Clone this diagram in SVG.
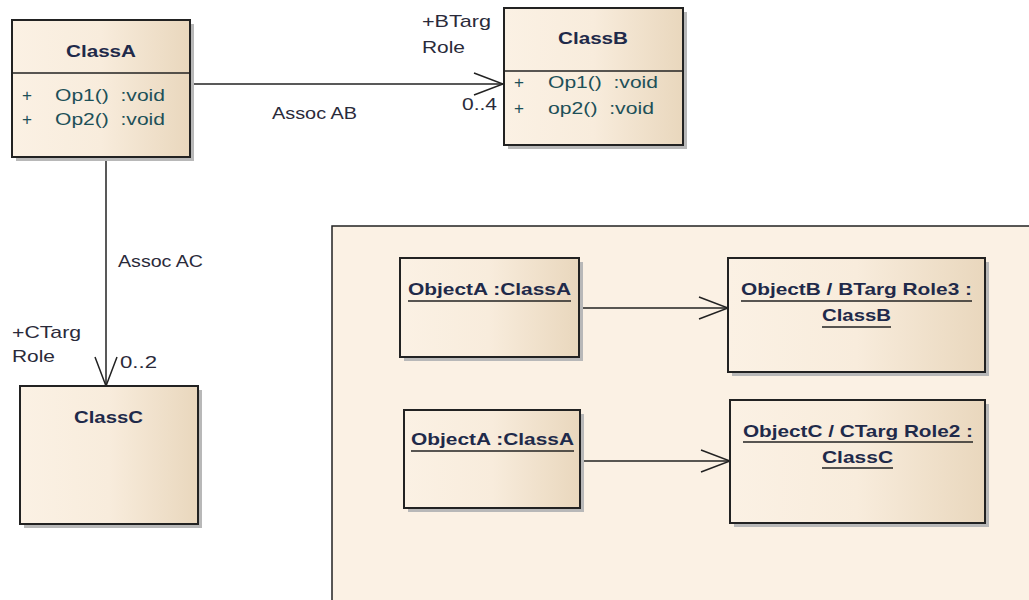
<svg xmlns="http://www.w3.org/2000/svg" width="1029" height="600" viewBox="0 0 1029 600">
<defs>
<linearGradient id="g" x1="0" y1="0" x2="1" y2="0">
<stop offset="0" stop-color="#fbf1e4"/>
<stop offset="0.5" stop-color="#f8ecdc"/>
<stop offset="1" stop-color="#e9d7bd"/>
</linearGradient>
<marker id="open" markerWidth="32" markerHeight="26" refX="30" refY="13" orient="auto" markerUnits="userSpaceOnUse">
<path d="M1,2 L30,13 L1,24" fill="none" stroke="#222" stroke-width="1.5"/>
</marker>
</defs>
<style>
text{white-space:pre}
.box{fill:url(#g);stroke:#222;stroke-width:2}
.sh{fill:#b8b8b8}
.cn{font-family:"Liberation Sans",Arial,sans-serif;font-size:17px;font-weight:bold;fill:#1f2a4a}
.op{font-family:"Liberation Sans",Arial,sans-serif;font-size:17px;fill:#1d5058}
.lb{font-family:"Liberation Sans",Arial,sans-serif;font-size:17px;fill:#2a2a3a}
.ob{font-family:"Liberation Sans",Arial,sans-serif;font-size:17px;font-weight:bold;fill:#1f2a4a}
.ul{stroke:#222;stroke-width:1.5}
.ln{stroke:#222;stroke-width:1.5;fill:none}
</style>
<rect width="1029" height="600" fill="#ffffff"/>
<g id="frame">
<rect x="332" y="226" width="700" height="380" fill="#fbf1e4" stroke="#222" stroke-width="1.5"/>
</g>
<g id="connectors">
<line class="ln" x1="190" y1="84" x2="503" y2="84" marker-end="url(#open)"/>
<line class="ln" x1="106" y1="157" x2="106" y2="386" marker-end="url(#open)"/>
<line class="ln" x1="579" y1="308" x2="728" y2="308" marker-end="url(#open)"/>
<line class="ln" x1="580" y1="461" x2="730" y2="461" marker-end="url(#open)"/>
<text class="lb" x="272" y="119" textLength="85" lengthAdjust="spacingAndGlyphs">Assoc AB</text>
<text class="lb" x="422" y="27" textLength="69" lengthAdjust="spacingAndGlyphs">+BTarg</text>
<text class="lb" x="422" y="53" textLength="43" lengthAdjust="spacingAndGlyphs">Role</text>
<text class="lb" x="462" y="110" textLength="35" lengthAdjust="spacingAndGlyphs">0..4</text>
<text class="lb" x="118" y="267" textLength="85" lengthAdjust="spacingAndGlyphs">Assoc AC</text>
<text class="lb" x="12" y="338" textLength="69" lengthAdjust="spacingAndGlyphs">+CTarg</text>
<text class="lb" x="12" y="362" textLength="43" lengthAdjust="spacingAndGlyphs">Role</text>
<text class="lb" x="120" y="368" textLength="37" lengthAdjust="spacingAndGlyphs">0..2</text>
</g>
<g id="ClassA">
<rect class="sh" x="16" y="24" width="178" height="137"/>
<rect class="box" x="12" y="20" width="178" height="137"/>
<line class="ul" x1="12" y1="73" x2="190" y2="73"/>
<text class="cn" x="66" y="57" textLength="70" lengthAdjust="spacingAndGlyphs">ClassA</text>
<text class="op" x="22" y="101" textLength="10" lengthAdjust="spacingAndGlyphs">+</text>
<text class="op" x="55" y="101" textLength="110" lengthAdjust="spacingAndGlyphs">Op1()  :void</text>
<text class="op" x="22" y="125" textLength="10" lengthAdjust="spacingAndGlyphs">+</text>
<text class="op" x="55" y="125" textLength="110" lengthAdjust="spacingAndGlyphs">Op2()  :void</text>
</g>
<g id="ClassB">
<rect class="sh" x="508" y="12" width="179" height="137"/>
<rect class="box" x="504" y="8" width="179" height="137"/>
<line class="ul" x1="504" y1="71" x2="683" y2="71"/>
<text class="cn" x="558" y="44" textLength="70" lengthAdjust="spacingAndGlyphs">ClassB</text>
<text class="op" x="514" y="88" textLength="10" lengthAdjust="spacingAndGlyphs">+</text>
<text class="op" x="548" y="88" textLength="110" lengthAdjust="spacingAndGlyphs">Op1()  :void</text>
<text class="op" x="514" y="114" textLength="10" lengthAdjust="spacingAndGlyphs">+</text>
<text class="op" x="548" y="114" textLength="106" lengthAdjust="spacingAndGlyphs">op2()  :void</text>
</g>
<g id="ClassC">
<rect class="sh" x="24" y="390" width="178" height="138"/>
<rect class="box" x="20" y="386" width="178" height="138"/>
<text class="cn" x="74" y="423" textLength="69" lengthAdjust="spacingAndGlyphs">ClassC</text>
</g>
<g id="ObjectA1">
<rect class="sh" x="404" y="262" width="179" height="99"/>
<rect class="box" x="400" y="258" width="179" height="99"/>
<text class="ob" x="408" y="295" textLength="163" lengthAdjust="spacingAndGlyphs">ObjectA :ClassA</text>
<line class="ul" x1="408" y1="301" x2="571" y2="301"/>
</g>
<g id="ObjectB">
<rect class="sh" x="732" y="262" width="257" height="114"/>
<rect class="box" x="728" y="258" width="257" height="114"/>
<text class="ob" x="741" y="295" textLength="231" lengthAdjust="spacingAndGlyphs">ObjectB / BTarg Role3 :</text>
<line class="ul" x1="741" y1="301" x2="972" y2="301"/>
<text class="ob" x="822" y="321" textLength="69" lengthAdjust="spacingAndGlyphs">ClassB</text>
<line class="ul" x1="822" y1="327" x2="891" y2="327"/>
</g>
<g id="ObjectA2">
<rect class="sh" x="408" y="414" width="176" height="98"/>
<rect class="box" x="404" y="410" width="176" height="98"/>
<text class="ob" x="411" y="445" textLength="163" lengthAdjust="spacingAndGlyphs">ObjectA :ClassA</text>
<line class="ul" x1="411" y1="451" x2="574" y2="451"/>
</g>
<g id="ObjectC">
<rect class="sh" x="734" y="404" width="255" height="123"/>
<rect class="box" x="730" y="400" width="255" height="123"/>
<text class="ob" x="743" y="437" textLength="230" lengthAdjust="spacingAndGlyphs">ObjectC / CTarg Role2 :</text>
<line class="ul" x1="743" y1="442" x2="973" y2="442"/>
<text class="ob" x="822" y="463" textLength="71" lengthAdjust="spacingAndGlyphs">ClassC</text>
<line class="ul" x1="822" y1="468" x2="893" y2="468"/>
</g>
</svg>
